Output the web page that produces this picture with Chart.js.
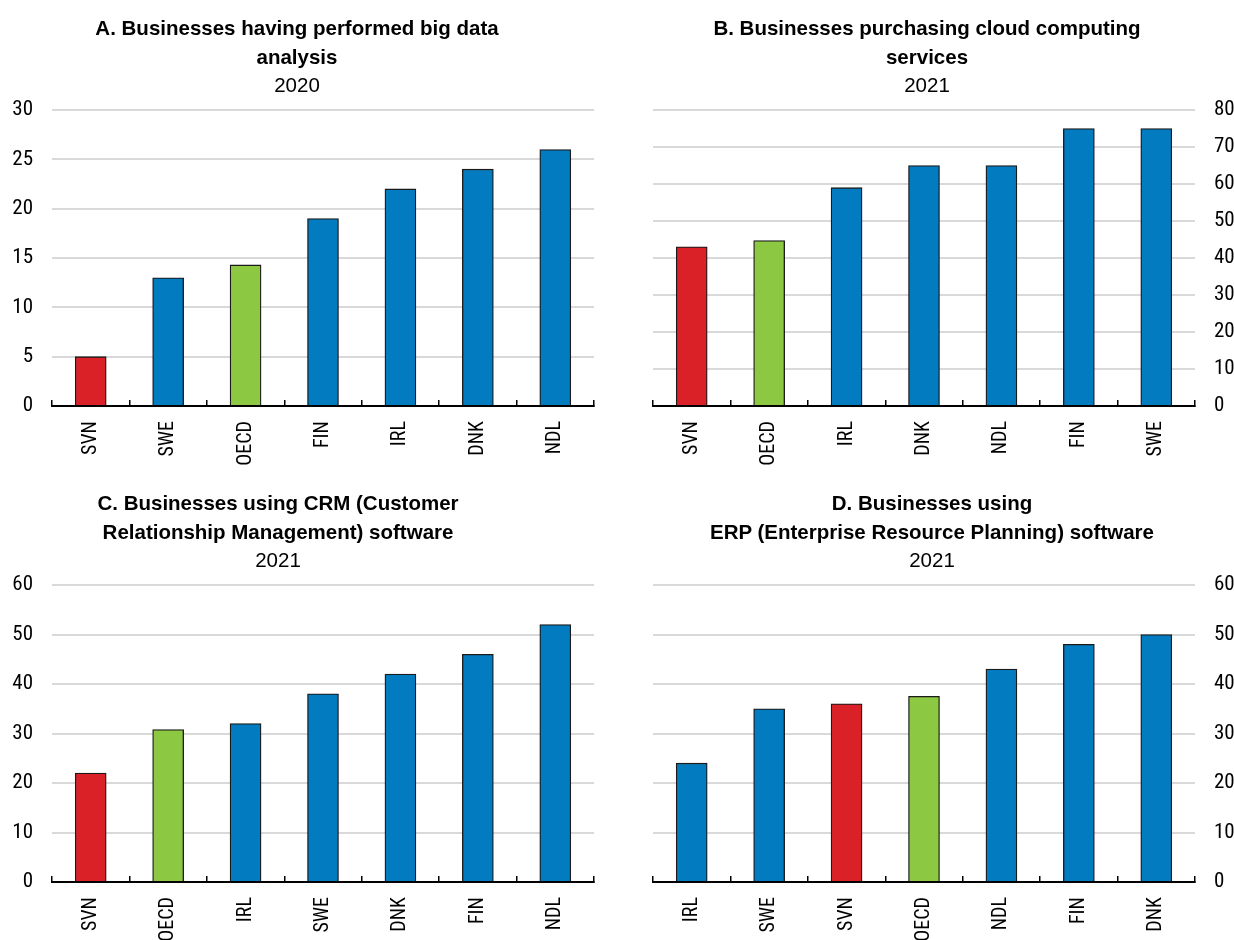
<!DOCTYPE html>
<html>
<head>
<meta charset="utf-8">
<script src="https://cdn.jsdelivr.net/npm/chart.js@4.4.0/dist/chart.umd.min.js"></script>
<style>
  body { margin: 0; background: #fff; }
  #wrap { position: relative; width: 1234px; height: 940px; overflow: hidden; }
  .panel { position: absolute; width: 617px; height: 470px; }
  .panel canvas { position: absolute; left: 0; top: 0; }
  .ttl {
    position: absolute; width: 600px; text-align: center; color: #000;
    font-family: "Liberation Sans", Arial, sans-serif;
    font-size: 20.5px; line-height: 28.5px;
  }
  .ttl b { font-weight: bold; }
</style>
</head>
<body>
<div id="wrap">
  <div class="panel" style="left:0;top:0"><canvas id="cA" width="617" height="470"></canvas></div>
  <div class="panel" style="left:617px;top:0"><canvas id="cB" width="617" height="470"></canvas></div>
  <div class="panel" style="left:0;top:470px"><canvas id="cC" width="617" height="470"></canvas></div>
  <div class="panel" style="left:617px;top:470px"><canvas id="cD" width="617" height="470"></canvas></div>

  <div class="ttl" style="left:-3px;top:14px"><b>A. Businesses having performed big data<br>analysis</b><br>2020</div>
  <div class="ttl" style="left:627px;top:14px"><b>B. Businesses purchasing cloud computing<br>services</b><br>2021</div>
  <div class="ttl" style="left:-22px;top:489px"><b>C. Businesses using CRM (Customer<br>Relationship Management) software</b><br>2021</div>
  <div class="ttl" style="left:632px;top:489px"><b>D. Businesses using<br>ERP (Enterprise Resource Planning) software</b><br>2021</div>
</div>

<script>
// panel A - big data analysis, 2020
const catsA = ["SVN", "SWE", "OECD", "FIN", "IRL", "DNK", "NDL"];
const valsA = [5, 13, 14.3, 19, 22, 24, 26];
// panel B - cloud computing, 2021
const catsB = ["SVN", "OECD", "IRL", "DNK", "NDL", "FIN", "SWE"];
const valsB = [43, 44.7, 59, 65, 65, 75, 75];
// panel C - CRM software, 2021
const catsC = ["SVN", "OECD", "IRL", "SWE", "DNK", "FIN", "NDL"];
const valsC = [22, 30.8, 32, 38, 42, 46, 52];
// panel D - ERP software, 2021
const catsD = ["IRL", "SWE", "SVN", "OECD", "NDL", "FIN", "DNK"];
const valsD = [24, 35, 36, 37.5, 43, 48, 50];

const BLUE = "#037BC1";
const RED = "#DA2128";
const GREEN = "#8CC841";
const narrow = "'Roboto Condensed', 'DejaVu Sans Condensed', sans-serif";

function barColor(c) {
  if (c === "SVN") return RED;
  if (c === "OECD") return GREEN;
  return BLUE;
}

function makeChart(id, cats, vals, o) {
  const right = o.side === "right";
  return new Chart(document.getElementById(id), {
    type: "bar",
    data: {
      labels: cats,
      datasets: [{
        data: vals,
        backgroundColor: cats.map(barColor),
        borderColor: "#1a1a1a",
        borderWidth: 1.3,
        barThickness: 31
      }]
    },
    options: {
      responsive: false,
      animation: false,
      layout: {
        padding: right
          ? { left: 36, right: 0, top: o.top, bottom: 0 }
          : { left: 0, right: 23, top: o.top, bottom: 0 }
      },
      plugins: { legend: { display: false }, tooltip: { enabled: false } },
      scales: {
        x: {
          offset: true,
          grid: {
            offset: true,
            drawOnChartArea: false,
            drawTicks: true,
            tickLength: -6,
            color: "#000",
            lineWidth: 1.5
          },
          border: { display: true, color: "#000", width: 2 },
          ticks: {
            autoSkip: false,
            minRotation: 90,
            maxRotation: 90,
            padding: 21,
            color: "#000",
            font: { family: narrow, size: 20 }
          },
          afterFit: (s) => { s.height = o.axisH; }
        },
        y: {
          position: o.side,
          min: 0,
          max: o.max,
          ticks: {
            stepSize: o.step,
            padding: 19,
            color: "#000",
            font: { family: narrow, size: 21 }
          },
          grid: {
            drawTicks: false,
            lineWidth: 2,
            color: (ctx) => ctx.tick && ctx.tick.value === 0 ? "rgba(0,0,0,0)" : "#d9d9d9"
          },
          border: { display: false },
          afterFit: (s) => { s.width = right ? 39 : 52; }
        }
      }
    }
  });
}

makeChart("cA", catsA, valsA, { side: "left", max: 30, step: 5, top: 110, axisH: 64 });
makeChart("cB", catsB, valsB, { side: "right", max: 80, step: 10, top: 110, axisH: 64 });
makeChart("cC", catsC, valsC, { side: "left", max: 60, step: 10, top: 115, axisH: 58 });
makeChart("cD", catsD, valsD, { side: "right", max: 60, step: 10, top: 115, axisH: 58 });
</script>
</body>
</html>
